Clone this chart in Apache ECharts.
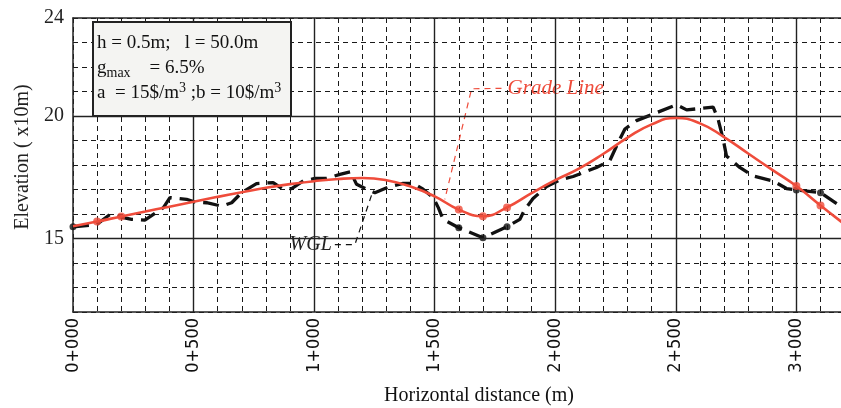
<!DOCTYPE html>
<html>
<head>
<meta charset="utf-8">
<script src="https://cdn.jsdelivr.net/npm/echarts@6/dist/echarts.min.js"></script>
<style>
  html, body { margin: 0; padding: 0; background: #fff; }
  #chart { width: 841px; height: 408px; }
</style>
</head>
<body>
<div id="chart"></div>
<script>
// station ticks (m) and their labels
const stations = [0, 500, 1000, 1500, 2000, 2500, 3000];
const stationLabels = ['0+000', '0+500', '1+000', '1+500', '2+000', '2+500', '3+000'];
const elevLabels = [15, 20, 24];
const majorElev = [15, 20];

// grade line (red), every 100 m
const gradeX = [0, 100, 200, 300, 400, 500, 600, 700, 800, 900, 1000, 1100, 1200, 1300, 1400, 1500,
  1600, 1700, 1800, 1900, 2000, 2100, 2200, 2300, 2400, 2500, 2600, 2700, 2800, 2900, 3000, 3100, 3200];
const gradeY = [15.50, 15.69, 15.90, 16.10, 16.30, 16.50, 16.70, 16.89, 17.07, 17.22, 17.34, 17.43, 17.47, 17.38, 17.12, 16.72,
  16.18, 15.91, 16.27, 16.84, 17.38, 17.86, 18.46, 19.12, 19.66, 19.92, 19.70, 19.14, 18.47, 17.80, 17.14, 16.35, 15.58];
const gradeDotX = [100, 200, 1600, 1700, 1800, 3000, 3100];

// existing ground (WGL), black dashed
const wglX = [0, 98, 153, 209, 243, 298, 375, 402, 471, 506, 554, 617, 658, 699, 761, 830, 870, 907, 955, 1003,
  1052, 1107, 1151, 1176, 1218, 1252, 1314, 1369, 1411, 1452, 1494, 1515, 1535, 1600, 1700, 1800, 1853, 1874,
  1908, 1964, 2019, 2074, 2171, 2226, 2261, 2289, 2337, 2406, 2503, 2545, 2655, 2675, 2696, 2710, 2765, 2821,
  2903, 2959, 3000, 3100, 3200];
const wglY = [15.48, 15.57, 15.98, 15.85, 15.78, 15.75, 16.26, 16.67, 16.60, 16.49, 16.46, 16.32, 16.46, 16.87, 17.24, 17.28, 17.02, 17.04, 17.35, 17.45,
  17.45, 17.62, 17.72, 17.21, 17.01, 16.87, 17.12, 17.25, 17.25, 17.01, 16.67, 16.26, 15.78, 15.44, 15.03, 15.48, 15.78, 16.19,
  16.63, 17.12, 17.39, 17.53, 17.90, 18.17, 18.92, 19.47, 19.81, 20.08, 20.46, 20.25, 20.36, 19.88, 19.06, 18.37, 17.90, 17.55,
  17.35, 17.04, 16.98, 16.87, 16.20];
const wglDotX = [0, 1600, 1700, 1800, 3000, 3100];

// annotation leaders
const wglLeaderX = [1086, 1169, 1244];
const wglLeaderY = [14.75, 14.75, 16.94];
const gradeLeaderX = [1777, 1653, 1542];
const gradeLeaderY = [21.13, 21.11, 16.60];

const serif = '"Liberation Serif", "Times New Roman", serif';
const red = '#ef4c3b';

function pairs(xs, ys) {
  return xs.map((x, i) => [x, ys[i]]);
}
function pick(xs, ys, sel) {
  return sel.map(x => [x, ys[xs.indexOf(x)]]);
}

const chart = echarts.init(document.getElementById('chart'));

const option = {
  animation: false,
  grid: { left: 73, right: 0, top: 18, bottom: 96, outerBoundsMode: 'none', containLabel: false },
  xAxis: [
    {
      type: 'value', min: 0, max: 3185, interval: 100,
      axisLine: { show: true, lineStyle: { color: '#222', width: 1.5 } },
      axisTick: { show: false },
      splitLine: { show: true, lineStyle: { color: '#1a1a1a', type: [5, 4], width: 1 } },
      axisLabel: {
        rotate: 90, margin: 6,
        fontFamily: '"Liberation Sans Narrow", "DejaVu Sans Condensed", sans-serif',
        fontSize: 18, color: '#111',
        formatter: v => {
          const i = stations.indexOf(v);
          return i >= 0 ? stationLabels[i] : '';
        }
      },
      name: 'Horizontal distance (m)',
      nameLocation: 'middle', nameGap: 74,
      nameTextStyle: { fontFamily: serif, fontSize: 20, color: '#111', padding: [0, 0, 0, 44] }
    },
    {
      type: 'value', position: 'top', min: 0, max: 3185,
      axisLine: { show: true, onZero: false, lineStyle: { color: '#222', width: 1.5 } },
      axisTick: { show: false }, axisLabel: { show: false }, splitLine: { show: false }
    }
  ],
  yAxis: {
    type: 'value', min: 12, max: 24, interval: 1,
    axisLine: { show: true, lineStyle: { color: '#222', width: 1.5 } },
    axisTick: { show: false },
    splitLine: { show: true, lineStyle: { color: '#1a1a1a', type: [5, 4], width: 1 } },
    axisLabel: {
      margin: 9, fontFamily: serif, fontSize: 20, color: '#222',
      padding: [0, 0, 8, 0],
      formatter: v => (elevLabels.indexOf(v) >= 0 ? String(v) : '')
    },
    name: 'Elevation ( x10m)',
    nameLocation: 'middle', nameGap: 40, nameRotate: 90,
    nameTextStyle: { fontFamily: serif, fontSize: 20, color: '#222', padding: [0, 0, 0, 16] }
  },
  graphic: [
    {
      type: 'group', left: 92, top: 21, z: 100,
      children: [
        { type: 'rect', z: 100, shape: { x: 0, y: 0, width: 198, height: 94 },
          style: { fill: '#f4f4f2', stroke: '#222', lineWidth: 2 } },
        { type: 'text', z: 101, x: 4, y: 21,
          style: { text: 'h = 0.5m;   l = 50.0m', font: '19px ' + serif, fill: '#111', verticalAlign: 'middle' } },
        { type: 'text', z: 101, x: 4, y: 46,
          style: {
            text: '{n|g}{s|max}{n|    = 6.5%}', verticalAlign: 'middle', fill: '#111',
            rich: {
              n: { fontSize: 19, fontFamily: serif, lineHeight: 24 },
              s: { fontSize: 14, fontFamily: serif, verticalAlign: 'bottom' }
            }
          } },
        { type: 'text', z: 101, x: 4, y: 71,
          style: {
            text: '{n|a  = 15$/m}{p|3}{n| ;b = 10$/m}{p|3}', verticalAlign: 'middle', fill: '#111',
            rich: {
              n: { fontSize: 19, fontFamily: serif, lineHeight: 24 },
              p: { fontSize: 14, fontFamily: serif, verticalAlign: 'top' }
            }
          } }
      ]
    }
  ],
  series: [
    {
      type: 'line', name: 'WGL',
      data: pairs(wglX, wglY),
      symbol: 'none',
      lineStyle: { color: '#111', width: 3.3, type: [16, 8] },
      z: 3,
      markLine: {
        silent: true, symbol: ['none', 'none'], label: { show: false },
        lineStyle: { color: '#222', type: 'solid', width: 1.4 },
        emphasis: { disabled: true },
        data: stations.slice(1).map(x => ({ xAxis: x })).concat(majorElev.map(y => ({ yAxis: y })))
      }
    },
    {
      type: 'scatter', data: pick(wglX, wglY, wglDotX),
      symbolSize: 7, itemStyle: { color: '#111' }, z: 4
    },
    {
      type: 'line', name: 'Grade Line',
      data: pairs(gradeX, gradeY),
      smooth: 0.5,
      symbol: 'none',
      lineStyle: { color: red, width: 2.6 },
      z: 5
    },
    {
      type: 'scatter', data: pick(gradeX, gradeY, gradeDotX),
      symbolSize: 8, itemStyle: { color: red }, z: 6
    },
    {
      type: 'line',
      data: pairs(wglLeaderX, wglLeaderY).map((p, i) => i === 0 ? {
        value: p,
        label: { show: true, position: 'left', distance: 3, formatter: 'WGL',
          fontFamily: serif, fontStyle: 'italic', fontSize: 20, color: '#222' }
      } : p),
      symbol: 'circle', symbolSize: 0.1, showSymbol: true,
      itemStyle: { color: '#111' },
      lineStyle: { color: '#111', width: 1.2, type: [6, 5] },
      z: 2
    },
    {
      type: 'line',
      data: pairs(gradeLeaderX, gradeLeaderY).map((p, i) => i === 0 ? {
        value: p,
        label: { show: true, position: 'right', distance: 6, formatter: 'Grade Line',
          fontFamily: serif, fontStyle: 'italic', fontSize: 21, color: red }
      } : p),
      symbol: 'circle', symbolSize: 0.1, showSymbol: true,
      itemStyle: { color: red },
      lineStyle: { color: red, width: 1.2, type: [6, 5] },
      z: 2
    }
  ]
};

chart.setOption(option);
</script>
</body>
</html>
